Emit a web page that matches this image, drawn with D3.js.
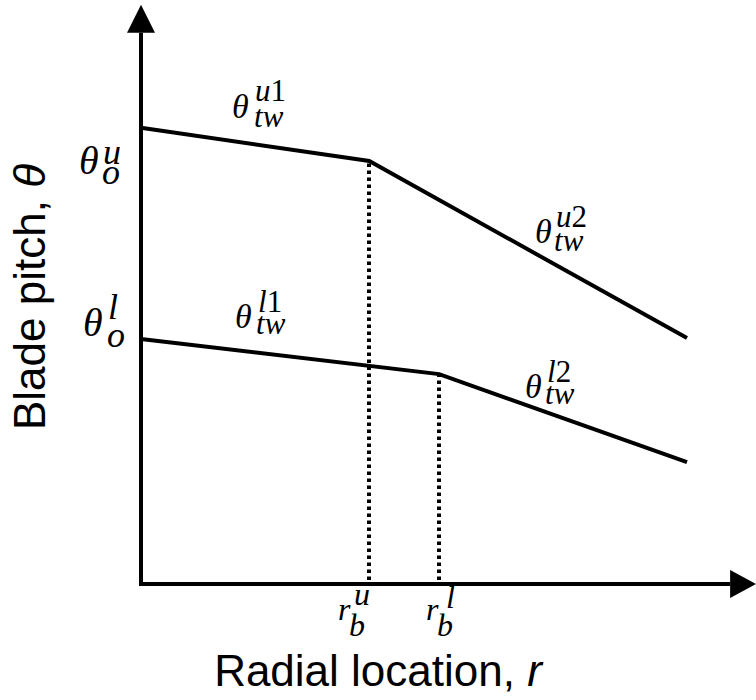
<!DOCTYPE html>
<html>
<head>
<meta charset="utf-8">
<script src="https://cdn.jsdelivr.net/npm/d3@7"></script>
<style>
  html, body { margin: 0; padding: 0; background: #fff; }
  svg { display: block; }
</style>
</head>
<body>
<svg id="chart" width="756" height="700"></svg>
<script>
// ---- data (abstract units) ----
const radialUpper = [0, 41.8, 100];       // r positions: root, r_b^u, tip
const pitchUpper  = [100, 92.7, 53.9];    // theta values for upper schedule
const radialLower = [0, 54.6, 100];       // r positions: root, r_b^l, tip
const pitchLower  = [53.7, 46.0, 26.7];   // theta values for lower schedule
const breakRadii  = [41.8, 54.6];         // r_b^u, r_b^l
const breakPitch  = [92.7, 46.0];
const axisExtent  = { r: 107.9, theta: 120.8 };

const svg = d3.select("#chart");
const x = d3.scaleLinear().domain([0, 100]).range([141, 687]);
const y = d3.scaleLinear().domain([0, 100]).range([584, 127.7]);

const line = d3.line().x(d => x(d[0])).y(d => y(d[1]));

// axes with arrowheads
const axG = svg.append("g");
axG.append("line")
  .attr("x1", x(0) - 2).attr("y1", y(0)).attr("x2", x(axisExtent.r)).attr("y2", y(0))
  .attr("stroke", "#000").attr("stroke-width", 4);
axG.append("line")
  .attr("x1", x(0)).attr("y1", y(0) + 2).attr("x2", x(0)).attr("y2", y(axisExtent.theta))
  .attr("stroke", "#000").attr("stroke-width", 4);
const ax = x(axisExtent.r), ay = y(0);
axG.append("path").attr("d", `M${ax},${ay - 14}L${ax + 26},${ay}L${ax},${ay + 14}Z`).attr("fill", "#000");
const yx = x(0), yy = y(axisExtent.theta);
axG.append("path").attr("d", `M${yx - 14},${yy}L${yx},${yy - 28}L${yx + 14},${yy}Z`).attr("fill", "#000");

// dotted break lines
breakRadii.forEach((r, i) => {
  const px = Math.round(x(r));
  svg.append("line")
    .attr("x1", px).attr("x2", px)
    .attr("y1", y(0) - 4).attr("y2", y(breakPitch[i]))
    .attr("stroke", "#000").attr("stroke-width", 4)
    .attr("stroke-dasharray", "3.5 3.5");
});

// pitch schedules
svg.append("path").datum(d3.zip(radialUpper, pitchUpper))
  .attr("d", line).attr("fill", "none").attr("stroke", "#000").attr("stroke-width", 4);
svg.append("path").datum(d3.zip(radialLower, pitchLower))
  .attr("d", line).attr("fill", "none").attr("stroke", "#000").attr("stroke-width", 4);

// math labels
const serif = "'Liberation Serif', 'Times New Roman', serif";
function scriptText(sel, str) {
  str.split("").forEach(ch => {
    sel.append("tspan").attr("font-style", /[0-9]/.test(ch) ? "normal" : "italic").text(ch);
  });
}
function mathLabel(o) {
  const g = svg.append("g").attr("font-family", serif).attr("fill", "#000");
  g.append("text").attr("x", o.x).attr("y", o.y).attr("font-size", o.bs)
    .attr("font-style", "italic").text(o.base);
  if (o.sup) scriptText(g.append("text").attr("x", o.x + o.supDx).attr("y", o.y + o.supDy)
    .attr("font-size", o.ss), o.sup);
  if (o.sub) scriptText(g.append("text").attr("x", o.x + o.subDx).attr("y", o.y + o.subDy)
    .attr("font-size", o.ss), o.sub);
}
// θ_o^u, θ_o^l
mathLabel({x: 79, y: 174, base: "θ", sup: "u", sub: "o", bs: 40, ss: 36, supDx: 24, supDy: -10, subDx: 23, subDy: 10});
mathLabel({x: 83, y: 336, base: "θ", sup: "l", sub: "o", bs: 40, ss: 36, supDx: 25, supDy: -17, subDx: 24, subDy: 11});
// twist labels
mathLabel({x: 232, y: 118, base: "θ", sup: "u1", sub: "tw", bs: 34, ss: 31, supDx: 23, supDy: -17, subDx: 22, subDy: 9});
mathLabel({x: 235, y: 328, base: "θ", sup: "l1", sub: "tw", bs: 34, ss: 31, supDx: 23, supDy: -16, subDx: 21, subDy: 6});
mathLabel({x: 535, y: 243, base: "θ", sup: "u2", sub: "tw", bs: 34, ss: 31, supDx: 21, supDy: -16, subDx: 19, subDy: 8});
mathLabel({x: 525, y: 398, base: "θ", sup: "l2", sub: "tw", bs: 34, ss: 31, supDx: 22, supDy: -16, subDx: 20, subDy: 6});
// r_b labels
mathLabel({x: 338, y: 620, base: "r", sup: "u", sub: "b", bs: 32, ss: 32, supDx: 16, supDy: -15, subDx: 11, subDy: 16});
mathLabel({x: 426, y: 620, base: "r", sup: "l", sub: "b", bs: 32, ss: 32, supDx: 20, supDy: -12, subDx: 11, subDy: 16});

// axis titles
const sans = "'Liberation Sans', Arial, sans-serif";
const xt = svg.append("text").attr("x", 378).attr("y", 686).attr("text-anchor", "middle")
  .attr("font-family", sans).attr("font-size", 44).attr("fill", "#000");
xt.append("tspan").text("Radial location, ");
xt.append("tspan").attr("font-style", "italic").text("r");

const yt = svg.append("text").attr("transform", "translate(45,297) rotate(-90)").attr("text-anchor", "middle")
  .attr("font-family", sans).attr("font-size", 44).attr("fill", "#000");
yt.append("tspan").text("Blade pitch, ");
yt.append("tspan").attr("font-style", "italic").text("θ");
</script>
</body>
</html>
